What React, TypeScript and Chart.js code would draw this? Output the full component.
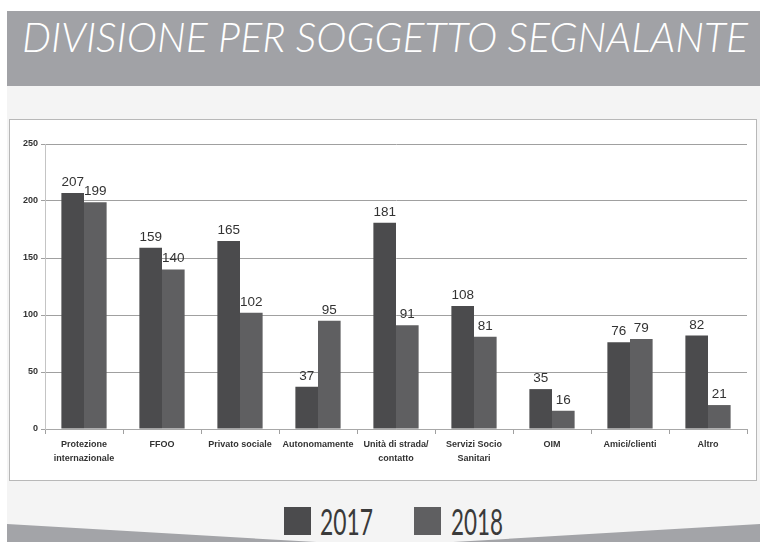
import React, { useEffect, useRef } from "react";
import { Chart, registerables } from "chart.js";

Chart.register(...registerables);

const TITLE = "DIVISIONE PER SOGGETTO SEGNALANTE";
const categories: (string | string[])[] = [
  ["Protezione", "internazionale"],
  "FFOO",
  "Privato sociale",
  "Autonomamente",
  ["Unità di strada/", "contatto"],
  ["Servizi Socio", "Sanitari"],
  "OIM",
  "Amici/clienti",
  "Altro",
];
const seriesNames = ["2017", "2018"];
const values2017 = [207, 159, 165, 37, 181, 108, 35, 76, 82];
const values2018 = [199, 140, 102, 95, 91, 81, 16, 79, 21];
const yTicks = [0, 50, 100, 150, 200, 250];

const COLORS = ["#4b4b4d", "#5f5f61"];

const valueLabels = {
  id: "valueLabels",
  afterDatasetsDraw(chart: any) {
    const ctx = chart.ctx;
    ctx.save();
    ctx.font = "13.5px 'Liberation Sans', Arial, sans-serif";
    ctx.fillStyle = "#333333";
    ctx.textAlign = "center";
    ctx.textBaseline = "alphabetic";
    chart.data.datasets.forEach((ds: any, i: number) => {
      const meta = chart.getDatasetMeta(i);
      meta.data.forEach((el: any, j: number) => {
        ctx.fillText(String(ds.data[j]), el.x, el.y - 7);
      });
    });
    ctx.restore();
  },
};

export default function App() {
  const ref = useRef<HTMLCanvasElement | null>(null);

  useEffect(() => {
    if (!ref.current) return;
    const chart = new Chart(ref.current, {
      type: "bar",
      data: {
        labels: categories,
        datasets: [
          {
            label: seriesNames[0],
            data: values2017,
            backgroundColor: COLORS[0],
            categoryPercentage: 0.58,
            barPercentage: 1,
          },
          {
            label: seriesNames[1],
            data: values2018,
            backgroundColor: COLORS[1],
            categoryPercentage: 0.58,
            barPercentage: 1,
          },
        ],
      },
      options: {
        animation: false,
        responsive: false,
        devicePixelRatio: 1,
        layout: { padding: { top: 24, right: 9, left: 0, bottom: 0 } },
        plugins: {
          legend: { display: false },
          tooltip: { enabled: false },
        },
        scales: {
          x: {
            afterFit: (s: any) => {
              s.height = 51;
            },
            grid: {
              display: true,
              drawOnChartArea: false,
              drawTicks: true,
              tickLength: 5,
              color: "#a0a0a0",
              offset: true,
            },
            border: { display: true, color: "#a8a8a8" },
            ticks: {
              autoSkip: false,
              maxRotation: 0,
              minRotation: 0,
              padding: 4,
              color: "#333333",
              font: { family: "'Liberation Sans', Arial, sans-serif", size: 9, weight: "bold", lineHeight: 1.5 },
            },
          },
          y: {
            min: yTicks[0],
            max: yTicks[yTicks.length - 1],
            afterFit: (s: any) => {
              s.width = 35;
            },
            afterBuildTicks: (s: any) => {
              s.ticks = yTicks.map((v) => ({ value: v }));
            },
            grid: {
              color: "#a0a0a0",
              tickLength: 4,
              drawTicks: true,
            },
            border: { display: true, color: "#c4c4c4" },
            ticks: {
              padding: 3,
              color: "#333333",
              font: { family: "'Liberation Sans', Arial, sans-serif", size: 9, weight: "bold" },
            },
          },
        },
      },
      plugins: [valueLabels],
    });
    return () => chart.destroy();
  }, []);

  return (
    <div style={{ position: "fixed", left: 0, top: 0, width: 760, height: 542, background: "#ffffff", overflow: "hidden" }}>
      <svg width={760} height={542} style={{ position: "absolute", left: 0, top: 0 }}>
        <rect x={7} y={11} width={753} height={531} fill="#f4f4f4" />
        <rect x={7} y={11} width={753} height={75} fill="#a1a2a6" />
        <text
          x={22}
          y={52}
          fill="#ffffff"
          fontFamily="Lato, 'Open Sans', sans-serif"
          fontStyle="italic"
          fontWeight={300}
          fontSize={41}
          textLength={726}
          lengthAdjust="spacingAndGlyphs"
        >
          {TITLE}
        </text>
        <rect x={9.5} y={119.5} width={747} height={361} fill="#ffffff" stroke="#b8b8b8" strokeWidth={1} />
        <polygon points="7,524 385,546 760,524 760,542 7,542" fill="#a3a4a8" />
        <rect x={284} y={507} width={27} height={28} fill={COLORS[0]} />
        <text
          x={320}
          y={535}
          fill="#3a3a3a"
          fontFamily="Lato, 'Open Sans', sans-serif"
          fontWeight={400}
          fontSize={37}
          textLength={53}
          lengthAdjust="spacingAndGlyphs"
        >
          {seriesNames[0]}
        </text>
        <rect x={414} y={507} width={27} height={28} fill={COLORS[1]} />
        <text
          x={451}
          y={535}
          fill="#3a3a3a"
          fontFamily="Lato, 'Open Sans', sans-serif"
          fontWeight={400}
          fontSize={37}
          textLength={52}
          lengthAdjust="spacingAndGlyphs"
        >
          {seriesNames[1]}
        </text>
      </svg>
      <canvas ref={ref} width={746} height={360} style={{ position: "absolute", left: 10, top: 120, width: 746, height: 360 }} />
    </div>
  );
}
